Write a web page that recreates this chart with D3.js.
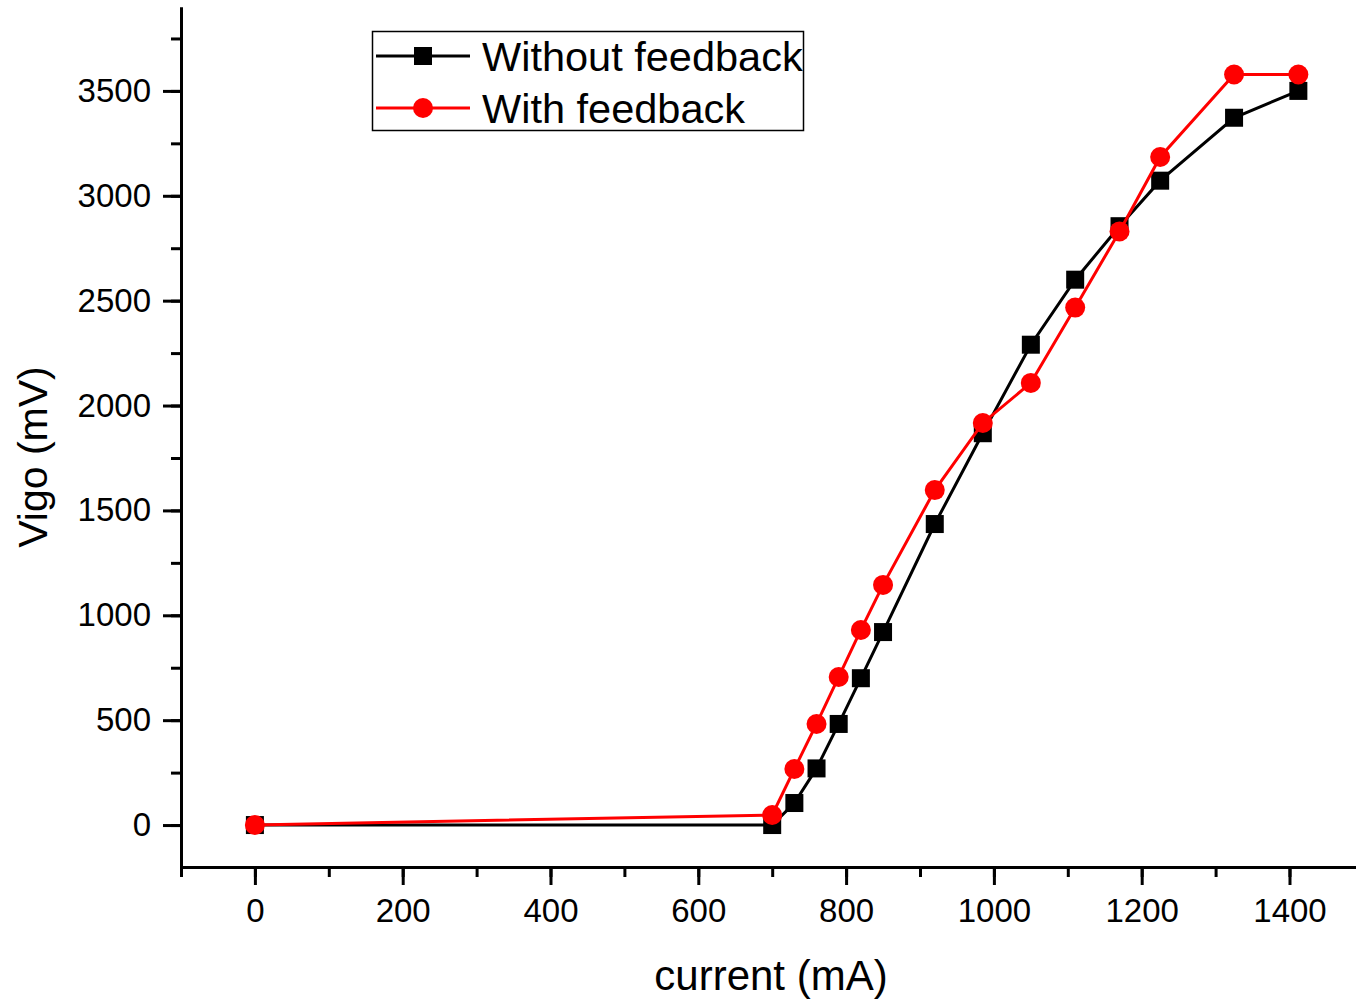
<!DOCTYPE html>
<html><head><meta charset="utf-8">
<script src="https://cdn.jsdelivr.net/npm/d3@7"></script>
<style>body{margin:0;background:#fff}svg{display:block}text{font-family:"Liberation Sans",Arial,sans-serif}</style>
</head><body>
<svg id="c" width="1356" height="999"></svg>
<script>
const currentX = [0, 700, 730, 760, 790, 820, 850, 920, 985, 1050, 1110, 1170, 1225, 1325, 1412];
const withoutFeedback = [0, 0, 105, 270, 482, 700, 920, 1435, 1868, 2290, 2600, 2855, 3072, 3372, 3500];
const withFeedback = [0, 48, 267, 482, 706, 930, 1145, 1597, 1917, 2108, 2467, 2830, 3185, 3578, 3578];
const xTicks = [0, 200, 400, 600, 800, 1000, 1200, 1400];
const yTicks = [0, 500, 1000, 1500, 2000, 2500, 3000, 3500];
const seriesNames = ["Without feedback", "With feedback"];

const svg = d3.select("#c");
const x = d3.scaleLinear().domain([-100, 1490]).range([181, 1356]);
const y = d3.scaleLinear().domain([-200, 3900]).range([867, 7]);
const fmt = d3.format("d");

const gx = svg.append("g").attr("transform", "translate(0,867)");
gx.call(d3.axisBottom(x).tickValues(d3.range(-100, 1401, 100)).tickSize(10).tickSizeOuter(0).tickFormat(""));
gx.append("g").call(d3.axisBottom(x).tickValues(xTicks).tickSize(18).tickSizeOuter(0).tickPadding(14).tickFormat(fmt));
gx.selectAll("path,line").attr("stroke", "#000").attr("stroke-width", 3);
gx.selectAll("text").attr("font-size", 33).attr("fill", "#000").attr("font-family", "Liberation Sans, Arial, sans-serif");

const gy = svg.append("g").attr("transform", "translate(181,0)");
gy.call(d3.axisLeft(y).tickValues(d3.range(0, 3801, 250)).tickSize(10).tickSizeOuter(0).tickFormat(""));
gy.append("g").call(d3.axisLeft(y).tickValues(yTicks).tickSize(18).tickSizeOuter(0).tickPadding(12).tickFormat(fmt));
gy.selectAll("path,line").attr("stroke", "#000").attr("stroke-width", 3);
gy.selectAll("text").attr("font-size", 33).attr("fill", "#000").attr("font-family", "Liberation Sans, Arial, sans-serif");

svg.append("text").attr("x", 771).attr("y", 990).attr("text-anchor", "middle").attr("font-size", 42).text("current (mA)");
svg.append("text").attr("transform", "translate(47,457) rotate(-90)").attr("text-anchor", "middle").attr("font-size", 41).text("Vigo (mV)");

const line = d3.line().x((d, i) => x(currentX[i])).y(d => y(d));

svg.append("path").datum(withoutFeedback).attr("d", line).attr("fill", "none").attr("stroke", "#000").attr("stroke-width", 3);
svg.append("g").selectAll("rect").data(withoutFeedback).join("rect")
  .attr("x", (d, i) => x(currentX[i]) - 9).attr("y", d => y(d) - 9).attr("width", 18).attr("height", 18).attr("fill", "#000");

svg.append("path").datum(withFeedback).attr("d", line).attr("fill", "none").attr("stroke", "#f00").attr("stroke-width", 3);
svg.append("g").selectAll("circle").data(withFeedback).join("circle")
  .attr("cx", (d, i) => x(currentX[i])).attr("cy", d => y(d)).attr("r", 10).attr("fill", "#f00");

const lg = svg.append("g");
lg.append("rect").attr("x", 372.5).attr("y", 31.5).attr("width", 431).attr("height", 99).attr("fill", "#fff").attr("stroke", "#000").attr("stroke-width", 1.5);
const colors = ["#000", "#f00"];
seriesNames.forEach((name, i) => {
  const cy = 56 + i * 52;
  lg.append("line").attr("x1", 376).attr("x2", 470).attr("y1", cy).attr("y2", cy).attr("stroke", colors[i]).attr("stroke-width", 3);
  if (i === 0) lg.append("rect").attr("x", 414).attr("y", cy - 9).attr("width", 18).attr("height", 18).attr("fill", "#000");
  else lg.append("circle").attr("cx", 423).attr("cy", cy).attr("r", 10).attr("fill", "#f00");
  lg.append("text").attr("x", 482).attr("y", cy + 15).attr("font-size", 41.5).attr("fill", "#000").text(name);
});
</script>
</body></html>
